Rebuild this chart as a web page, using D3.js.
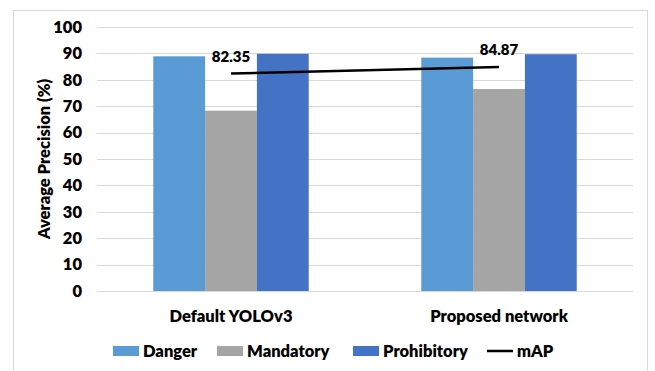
<!DOCTYPE html>
<html>
<head>
<meta charset="utf-8">
<script src="https://cdn.jsdelivr.net/npm/d3@7"></script>
<style>
  html, body { margin: 0; padding: 0; background: #fff; }
  svg { display: block; }
  text { font-family: Lato, "Open Sans", sans-serif; font-weight: 800; fill: #000; }
</style>
</head>
<body>
<svg id="chart" width="655" height="371"></svg>
<script>
// Model variants on the x axis
const categories = ["Default YOLOv3", "Proposed network"];
// Traffic-sign classes shown as bars
const seriesNames = ["Danger", "Mandatory", "Prohibitory"];
const seriesColors = ["#5B9BD5", "#A5A5A5", "#4472C4"];
// Per-class average precision (%) for each model
const danger = [88.9, 88.4];
const mandatory = [68.3, 76.5];
const prohibitory = [89.85, 89.7];
// Mean average precision line
const mAP = [82.35, 84.87];
const yTicks = [0, 10, 20, 30, 40, 50, 60, 70, 80, 90, 100];

const seriesValues = [danger, mandatory, prohibitory];
const FONT = "Lato, 'Open Sans', sans-serif";
const WEIGHT = 800;

const svg = d3.select("#chart");

// Chart frame
svg.append("rect")
  .attr("x", 13.5).attr("y", 10.5)
  .attr("width", 634).attr("height", 380)
  .attr("fill", "#fff")
  .attr("stroke", "#D9D9D9").attr("stroke-width", 1);

const plot = { left: 97, right: 633, top: 27, bottom: 291 };

const y = d3.scaleLinear().domain([0, 100]).range([plot.bottom, plot.top]);
const x = d3.scaleBand().domain(categories).range([plot.left, plot.right]).padding(0);
const groupWidth = x.bandwidth() * 0.58;
const xs = d3.scaleBand().domain(seriesNames).range([0, groupWidth]).padding(0);
const cx = c => x(c) + x.bandwidth() / 2;

// Horizontal gridlines
svg.append("g")
  .selectAll("line")
  .data(yTicks)
  .join("line")
  .attr("x1", plot.left).attr("x2", plot.right)
  .attr("y1", d => Math.round(y(d)) + 0.5).attr("y2", d => Math.round(y(d)) + 0.5)
  .attr("stroke", "#D9D9D9").attr("stroke-width", 1);

// Y axis tick labels
const yAxis = d3.axisLeft(y).tickValues(yTicks).tickSize(0).tickPadding(0);
const yg = svg.append("g").attr("transform", `translate(${plot.left - 15},0)`).call(yAxis);
yg.select(".domain").remove();
yg.selectAll("text")
  .attr("font-size", 16.5)
  .attr("font-family", FONT)
  .attr("font-weight", WEIGHT)
  .attr("fill", "#000");

// Y axis title
svg.append("text")
  .attr("transform", `translate(50,${(plot.top + plot.bottom) / 2}) rotate(-90)`)
  .attr("text-anchor", "middle")
  .attr("font-size", 16.5)
  .text("Average Precision (%)");

// Bars
const groups = svg.append("g")
  .selectAll("g")
  .data(categories)
  .join("g")
  .attr("transform", c => `translate(${cx(c) - groupWidth / 2},0)`);

groups.selectAll("rect")
  .data((c, i) => seriesNames.map((s, k) => ({ s, k, v: seriesValues[k][i] })))
  .join("rect")
  .attr("x", d => xs(d.s))
  .attr("width", xs.bandwidth())
  .attr("y", d => y(d.v))
  .attr("height", d => y(0) - y(d.v))
  .attr("fill", d => seriesColors[d.k]);

// X axis category labels
const xAxis = d3.axisBottom(x).tickSize(0).tickPadding(0);
const xg = svg.append("g").attr("transform", `translate(0,${plot.bottom + 19})`).call(xAxis);
xg.select(".domain").remove();
xg.selectAll("text")
  .attr("font-size", 16.5)
  .attr("font-family", FONT)
  .attr("font-weight", WEIGHT)
  .attr("fill", "#000");

// mAP line
const line = d3.line().x((d, i) => cx(categories[i])).y(d => y(d));
svg.append("path")
  .datum(mAP)
  .attr("d", line)
  .attr("fill", "none")
  .attr("stroke", "#000")
  .attr("stroke-width", 2.5);

// mAP value labels
svg.append("g")
  .selectAll("text")
  .data(mAP)
  .join("text")
  .attr("x", (d, i) => cx(categories[i]))
  .attr("y", d => y(d) - 12)
  .attr("text-anchor", "middle")
  .attr("font-size", 15)
  .text(d => d.toFixed(2));

// Legend
const legendItems = [
  { name: "Danger", type: "rect", color: seriesColors[0], x: 113 },
  { name: "Mandatory", type: "rect", color: seriesColors[1], x: 217 },
  { name: "Prohibitory", type: "rect", color: seriesColors[2], x: 353 },
  { name: "mAP", type: "line", color: "#000", x: 487 }
];
const lg = svg.append("g")
  .selectAll("g")
  .data(legendItems)
  .join("g")
  .attr("transform", d => `translate(${d.x},351)`);

lg.filter(d => d.type === "rect").append("rect")
  .attr("x", 0).attr("y", -5).attr("width", 26).attr("height", 10)
  .attr("fill", d => d.color);
lg.filter(d => d.type === "line").append("line")
  .attr("x1", 0).attr("x2", 26).attr("y1", 0).attr("y2", 0)
  .attr("stroke", d => d.color).attr("stroke-width", 2.5);
lg.append("text")
  .attr("x", 30).attr("y", 6)
  .attr("font-size", 16.5)
  .text(d => d.name);
</script>
</body>
</html>
